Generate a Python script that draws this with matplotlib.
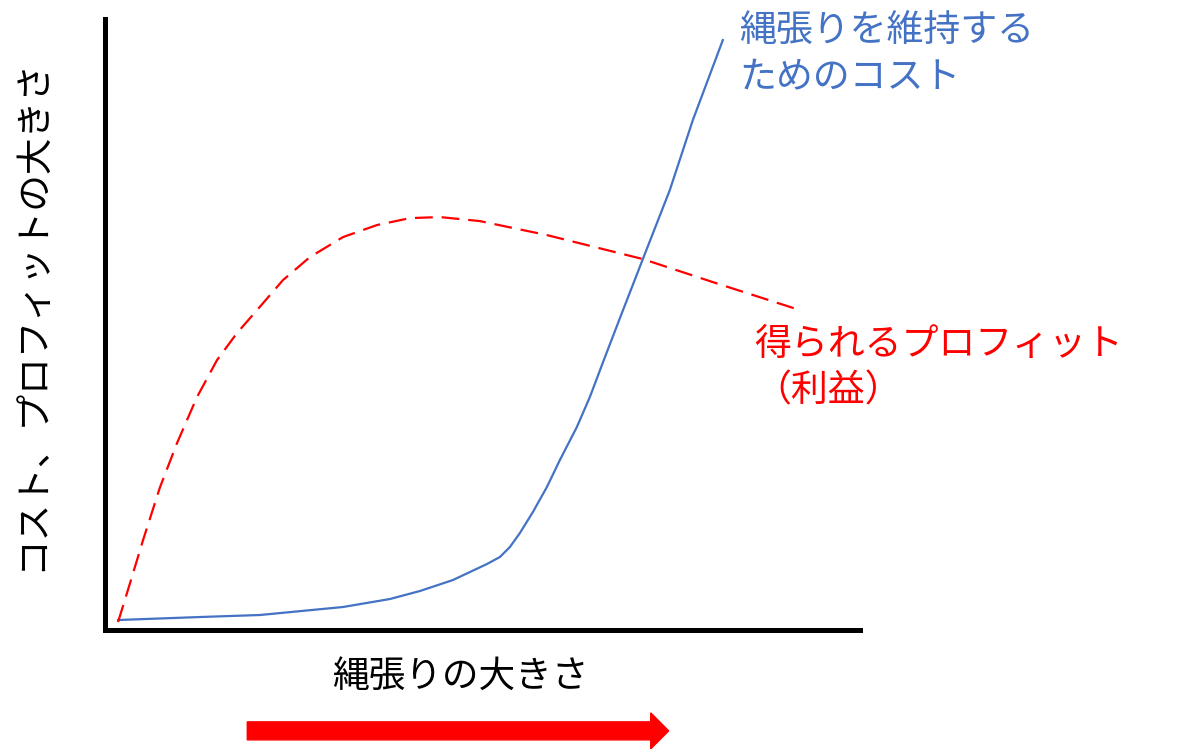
import numpy as np
import matplotlib
matplotlib.use("Agg")
import matplotlib.pyplot as plt
from matplotlib.patches import FancyArrow

# ── Fonts ───────────────────────────────────────────────────────────────────
plt.rcParams["font.family"] = ["Noto Sans CJK JP", "DejaVu Sans"]

BLUE = "#4472C4"
RED = "#FF0000"
BLACK = "#000000"

# ── Data (0–100 conceptual scale) ──────────────────────────────────────────
# cost of maintaining the territory
cost_x = [1.79, 12.64, 20.58, 31.57, 37.79, 41.76, 46.13, 50.63, 52.35,
          53.67, 55.00, 56.72, 58.57, 60.29, 62.54, 64.26, 66.11, 68.50,
          71.28, 74.85, 77.90, 81.87]
cost_y = [1.56, 2.05, 2.38, 3.69, 5.00, 6.31, 8.11, 10.73, 11.88,
          13.51, 15.81, 19.25, 23.34, 27.76, 33.17, 38.08, 44.14, 51.84,
          60.69, 71.99, 83.46, 96.56]

# profit obtained
profit_x = [1.79, 3.38, 5.10, 7.35, 9.60, 12.24, 14.89, 17.54, 20.19,
            23.63, 27.20, 31.57, 36.07, 40.44, 44.41, 49.70, 58.57,
            71.28, 80.54, 92.06]
profit_y = [1.23, 7.62, 14.66, 23.34, 30.55, 38.08, 44.14, 48.57, 52.33,
            57.25, 61.02, 64.29, 66.26, 67.40, 67.57, 66.91, 64.62,
            60.69, 56.92, 52.33]

cost_label = "縄張りを維持する\nためのコスト"
profit_label = "得られるプロフィット\n（利益）"
x_label = "縄張りの大きさ"
y_label = "コスト、プロフィットの大きさ"

# ── Figure ──────────────────────────────────────────────────────────────────
fig = plt.figure(figsize=(11.8, 7.49), dpi=100)
ax = fig.add_axes([0.0886, 0.1595, 0.640, 0.815])
ax.set_xlim(0, 100)
ax.set_ylim(0, 100)

ax.plot(cost_x, cost_y, color=BLUE, linewidth=1.6, solid_joinstyle="round")
ax.plot(profit_x, profit_y, color=RED, linewidth=1.6,
        linestyle=(0, (8, 4)))

# ── Axes cosmetics ──────────────────────────────────────────────────────────
for side in ("top", "right"):
    ax.spines[side].set_visible(False)
for side in ("left", "bottom"):
    ax.spines[side].set_linewidth(3.6)
    ax.spines[side].set_color(BLACK)
ax.set_xticks([])
ax.set_yticks([])

# ── Labels ──────────────────────────────────────────────────────────────────
ax.text(84.0, 94.2, cost_label, color=BLUE, fontsize=26.6, ha="left",
        va="center", linespacing=1.25, clip_on=False)
ax.text(86.0, 42.9, profit_label, color=RED, fontsize=26.6, ha="left",
        va="center", linespacing=1.25, clip_on=False)

ax.text(0.471, -0.077, x_label, transform=ax.transAxes, fontsize=26.4,
        ha="center", va="center", color=BLACK)
ax.text(-0.095, 0.516, y_label, transform=ax.transAxes, fontsize=26.4,
        ha="center", va="center", rotation=90, color=BLACK)

# ── Direction arrow under the x label ───────────────────────────────────────
arrow = FancyArrow(0.189, -0.166, 0.558, 0.0, width=0.0295,
                   head_width=0.059, head_length=0.0238,
                   length_includes_head=True, color=RED,
                   transform=ax.transAxes, clip_on=False)
ax.add_patch(arrow)

fig.savefig("out.png", dpi=100)
